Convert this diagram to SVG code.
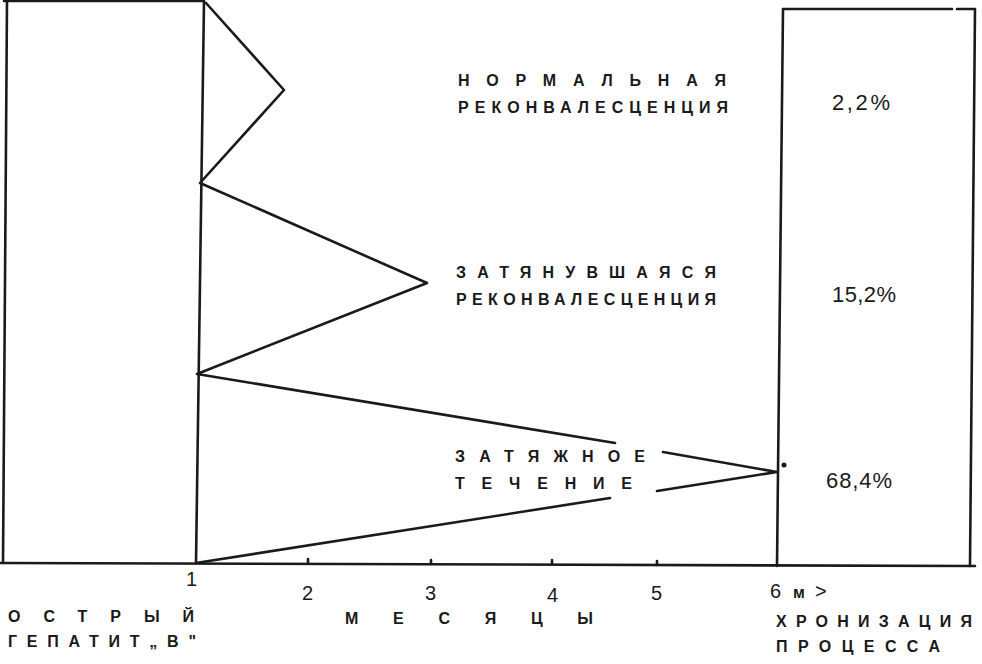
<svg xmlns="http://www.w3.org/2000/svg" width="982" height="664" viewBox="0 0 982 664">
<style>
.ln{fill:none;stroke:#1a1a1a;stroke-width:2.6;stroke-linecap:round;stroke-linejoin:round}
.lbl{font-family:"Liberation Sans",Arial,sans-serif;font-weight:bold;font-size:16px;fill:#1a1a1a}
.pct{font-family:"Liberation Sans",Arial,sans-serif;font-size:22px;fill:#1a1a1a}
.num{font-family:"Liberation Sans",Arial,sans-serif;font-size:20px;fill:#1a1a1a}
</style>
<rect width="982" height="664" fill="#fff"/>
<g id="acute-box">
<path class="ln" d="M7,1 L3,563 M4,1 L204,1 M204,1 L196,563"/>
<text class="lbl" x="8" y="622" textLength="186" lengthAdjust="spacing">ОСТРЫЙ</text>
<text class="lbl" x="8" y="647" textLength="188" lengthAdjust="spacing">ГЕПАТИТ„В"</text>
</g>
<g id="chronic-box">
<path class="ln" d="M783,9 L777,566 M783,9 L952,9 M957,9 L975,9 L970,566"/>
<text class="pct" x="832" y="110" textLength="58" lengthAdjust="spacing">2,2%</text>
<text class="pct" x="832" y="302" textLength="64" lengthAdjust="spacing">15,2%</text>
<text class="pct" x="826" y="488" textLength="66" lengthAdjust="spacing">68,4%</text>
<text class="lbl" x="776" y="627" textLength="196" lengthAdjust="spacing">ХРОНИЗАЦИЯ</text>
<text class="lbl" x="776" y="652" textLength="164" lengthAdjust="spacing">ПРОЦЕССА</text>
</g>
<g id="axis">
<path class="ln" d="M0,563 L975,566"/>
<path class="ln" stroke-width="2" d="M308,563 v-4 M431,564 v-4 M552,564 v-4 M657,565 v-4"/>
<text class="num" x="186" y="586">1</text>
<text class="num" x="302" y="600">2</text>
<text class="num" x="425" y="600">3</text>
<text class="num" x="547" y="602">4</text>
<text class="num" x="651" y="600">5</text>
<text class="num" x="770" y="598">6</text>
<text class="lbl" x="793" y="598">м</text>
<text class="num" x="815" y="598">&gt;</text>
<text class="lbl" x="345" y="624" textLength="248" lengthAdjust="spacing">МЕСЯЦЫ</text>
</g>
<g id="connectors">
<path class="ln" d="M206,3 L284,90 L200,183 L427,283 L197,374 L615,443"/>
<path class="ln" d="M663,452 L777,472 L657,491"/>
<path class="ln" d="M610,498 L196,563"/>
<circle cx="784" cy="465" r="2.5" fill="#1a1a1a"/>
</g>
<g id="normal">
<text class="lbl" x="458" y="86" textLength="268" lengthAdjust="spacing">НОРМАЛЬНАЯ</text>
<text class="lbl" x="458" y="113" textLength="270" lengthAdjust="spacing">РЕКОНВАЛЕСЦЕНЦИЯ</text>
</g>
<g id="prolonged">
<text class="lbl" x="456" y="278" textLength="260" lengthAdjust="spacing">ЗАТЯНУВШАЯСЯ</text>
<text class="lbl" x="456" y="305" textLength="260" lengthAdjust="spacing">РЕКОНВАЛЕСЦЕНЦИЯ</text>
</g>
<g id="protracted">
<text class="lbl" x="455" y="462" textLength="190" lengthAdjust="spacing">ЗАТЯЖНОЕ</text>
<text class="lbl" x="455" y="489" textLength="177" lengthAdjust="spacing">ТЕЧЕНИЕ</text>
</g>
</svg>
